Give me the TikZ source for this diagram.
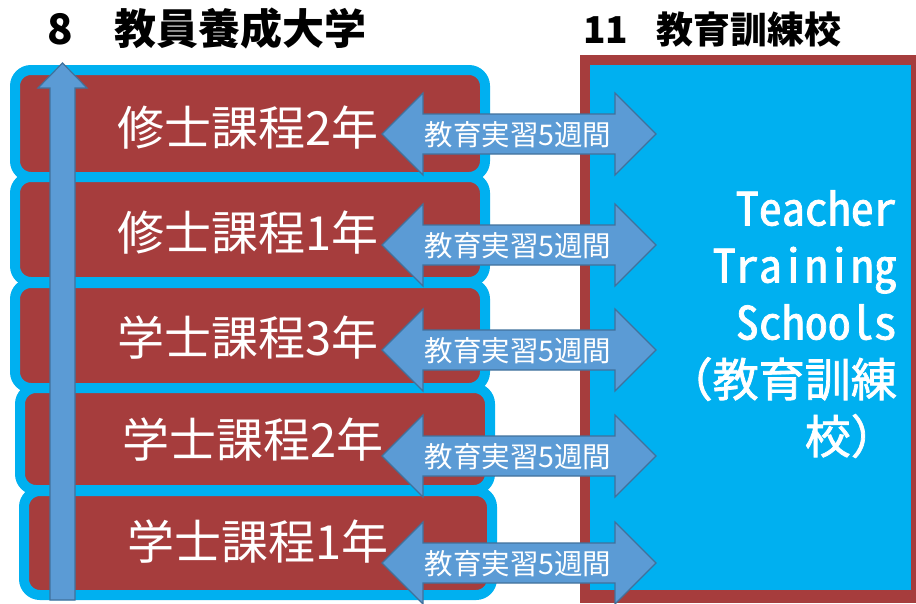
\documentclass[tikz,border=0pt]{standalone}
\usepackage{fontspec}
\newfontfamily\jp{Noto Sans CJK JP}
\newfontfamily\jpm{Noto Sans CJK JP}[RawFeature=+hwid,FakeBold=1.6]
\newfontfamily\jpf{Noto Sans CJK JP}[FakeBold=1.6]
\definecolor{boxred}{RGB}{166,61,61}
\definecolor{cyanb}{RGB}{0,176,240}
\definecolor{arrfill}{RGB}{91,155,213}
\definecolor{arrline}{RGB}{65,113,156}
\begin{document}
\begin{tikzpicture}[x=1pt,y=-1pt,
  yearbox/.style={draw=cyanb, fill=boxred, line width=10pt, rounded corners=16pt},
  blockarrow/.style={fill=arrfill, draw=arrline, line width=1.2pt, line join=miter},
  yearlabel/.style={text=white, font=\jp\fontsize{47}{50}\selectfont, inner sep=0pt},
  arrlabel/.style={text=white, font=\jp\fontsize{28.5}{30}\selectfont, inner sep=0pt},
  titletext/.style={text=black, font=\jp\bfseries\fontsize{42}{46}\selectfont, inner sep=0pt, anchor=west},
  schooltext/.style={text=white, font=\jpm\fontsize{46}{57}\selectfont, inner sep=0pt, align=right}]
\useasboundingbox (0,0) rectangle (916,603);
% titles
\node[titletext] (t1) at (47,28) {8　教員養成大学};
\node[titletext, font=\jp\bfseries\fontsize{37}{42}\selectfont] (t2) at (583,30) {11\hspace{28pt}教育訓練校};
% right box
\fill[boxred] (580,55) rectangle (916,603);
\fill[cyanb] (590,65) rectangle (911,590);
\node[schooltext, anchor=north east] (school) at (897,190) {Teacher\\Training\\Schools\\{\jpf（教育訓練}\\{\jpf 校）}};
% year boxes
\draw[yearbox] (15,70) rectangle (485,177);
\draw[yearbox] (15,177) rectangle (485,282);
\draw[yearbox] (15,283) rectangle (485,388);
\draw[yearbox] (20,388) rectangle (490,490);
\draw[yearbox] (24,491) rectangle (492,595);
\node[yearlabel] (y1) at (248,128) {修士課程2年};
\node[yearlabel] (y2) at (248,233) {修士課程1年};
\node[yearlabel] (y3) at (248,338) {学士課程3年};
\node[yearlabel] (y4) at (253,440) {学士課程2年};
\node[yearlabel] (y5) at (258,542) {学士課程1年};
% vertical arrow
\draw[blockarrow] (50,600) -- (50,88) -- (38,88) -- (62.5,63) -- (87,88) -- (75,88) -- (75,600) -- cycle;
% double arrows
\foreach \c/\n in {134/a1,245/a2,350/a3,456/a4,563/a5}{
  \draw[blockarrow] (382,\c) -- (423,\c-41) -- (423,\c-20) -- (615,\c-20) -- (615,\c-41) -- (656,\c)
     -- (615,\c+41) -- (615,\c+20) -- (423,\c+20) -- (423,\c+41) -- cycle;
  \node[arrlabel] (\n) at (518,\c+1) {教育実習5週間};
}
\end{tikzpicture}
\end{document}
